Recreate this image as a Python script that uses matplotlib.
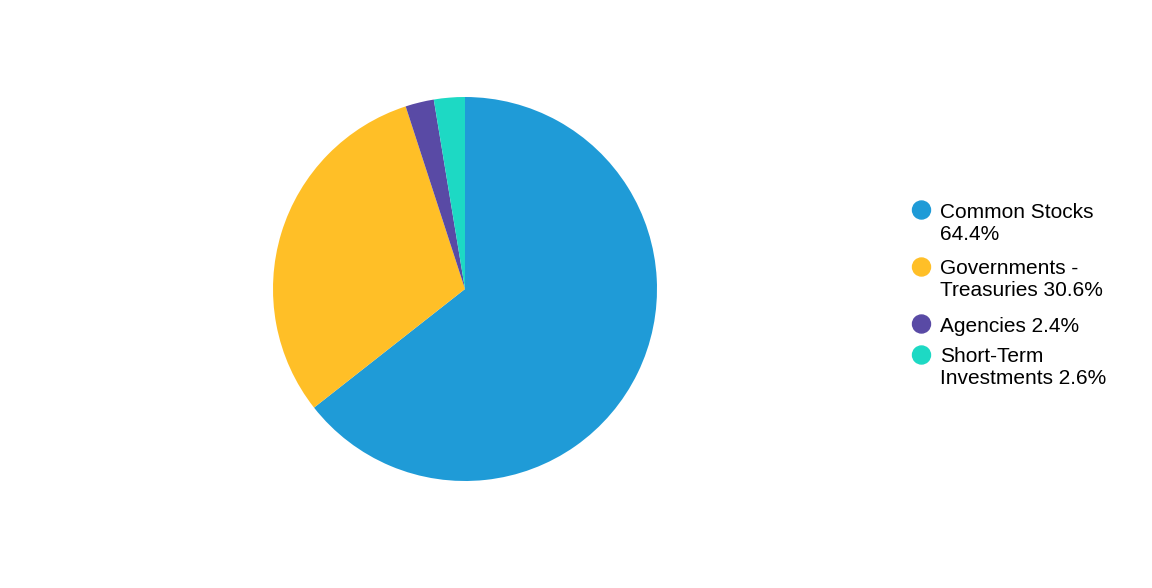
import matplotlib.pyplot as plt
from matplotlib.patches import Ellipse

# Portfolio composition
labels = ['Common Stocks\n64.4%', 'Governments -\nTreasuries 30.6%', 'Agencies 2.4%', 'Short-Term\nInvestments 2.6%']
values = [64.4, 30.6, 2.4, 2.6]
colors = ['#1F9BD7', '#FFBF27', '#594AA5', '#1DD9C4']

W, H = 1152, 588
plt.rcParams['font.family'] = ['Liberation Sans', 'DejaVu Sans']
fig = plt.figure(figsize=(W / 100, H / 100), dpi=100)

# pie centred at (465, 289) px with radius 192 px
cx, cy, r = 465, 289, 192
ax = fig.add_axes([(cx - r) / W, (H - cy - r) / H, 2 * r / W, 2 * r / H])
ax.pie(values, colors=colors, startangle=90, counterclock=False,
       wedgeprops=dict(linewidth=0))
ax.set_aspect('equal')
ax.set_xlim(-1, 1)
ax.set_ylim(-1, 1)

# legend drawn by hand: circle marker + wrapped label
y = 210
line_h = 22
for lab, col in zip(labels, colors):
    lines = lab.split('\n')
    fig.patches.append(Ellipse((921.5 / W, 1 - y / H), 18 / W, 18 / H, color=col,
                               transform=fig.transFigure))
    for i, line in enumerate(lines):
        fig.text(940 / W, 1 - (y + 7.5 + i * line_h) / H, line, fontsize=15,
                 va='baseline', ha='left', color='black')
    y += len(lines) * line_h + (13 if len(lines) > 1 else 9)

fig.savefig('out.png', dpi=100)
